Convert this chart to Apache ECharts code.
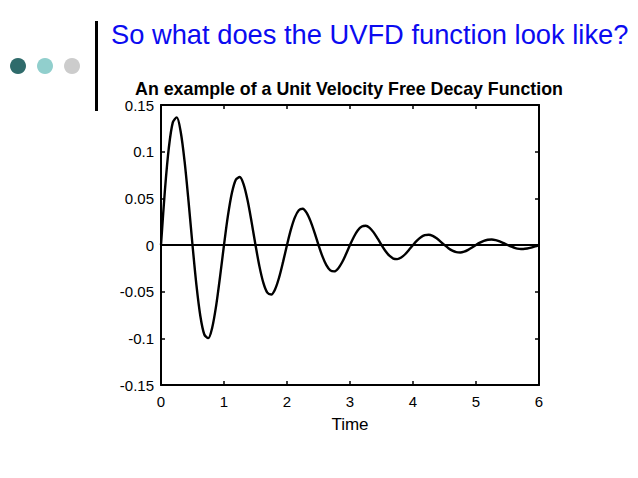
<!DOCTYPE html>
<html><head><meta charset="utf-8">
<script src="https://cdn.jsdelivr.net/npm/echarts@6/dist/echarts.min.js"></script>
<style>html,body{margin:0;padding:0;background:#fff}#c{width:638px;height:478px}</style>
</head><body><div id="c"></div>
<script>
const slideTitle = "So what does the UVFD function look like?";
const chartTitle = "An example of a Unit Velocity Free Decay Function";
const xName = "Time";
const timeValues = [0,0.0625,0.125,0.1875,0.25,0.3125,0.375,0.4375,0.5,0.5625,0.625,0.6875,0.75,0.8125,0.875,0.9375,
  1,1.0625,1.125,1.1875,1.25,1.3125,1.375,1.4375,1.5,1.5625,1.625,1.6875,1.75,1.8125,1.875,1.9375,
  2,2.0625,2.125,2.1875,2.25,2.3125,2.375,2.4375,2.5,2.5625,2.625,2.6875,2.75,2.8125,2.875,2.9375,
  3,3.0625,3.125,3.1875,3.25,3.3125,3.375,3.4375,3.5,3.5625,3.625,3.6875,3.75,3.8125,3.875,3.9375,
  4,4.0625,4.125,4.1875,4.25,4.3125,4.375,4.4375,4.5,4.5625,4.625,4.6875,4.75,4.8125,4.875,4.9375,
  5,5.0625,5.125,5.1875,5.25,5.3125,5.375,5.4375,5.5,5.5625,5.625,5.6875,5.75,5.8125,5.875,5.9375,6];
const responseValues = [0,0.0589,0.1045,0.1314,0.1367,0.1214,0.0893,0.0465,0,-0.0430,-0.0763,-0.0959,-0.0998,-0.0886,-0.0652,-0.0339,
  0,0.0314,0.0557,0.0700,0.0728,0.0647,0.0476,0.0248,0,-0.0229,-0.0406,-0.0511,-0.0531,-0.0472,-0.0347,-0.0181,
  0,0.0167,0.0296,0.0373,0.0388,0.0344,0.0253,0.0132,0,-0.0122,-0.0216,-0.0272,-0.0283,-0.0251,-0.0185,-0.0096,
  0,0.0089,0.0158,0.0198,0.0206,0.0183,0.0135,0.0070,0,-0.0065,-0.0115,-0.0145,-0.0151,-0.0134,-0.0099,-0.0051,
  0,0.0047,0.0084,0.0106,0.0110,0.0098,0.0072,0.0037,0,-0.0035,-0.0061,-0.0077,-0.0080,-0.0071,-0.0052,-0.0027,
  0,0.0025,0.0045,0.0056,0.0059,0.0052,0.0038,0.0020,0,-0.0018,-0.0033,-0.0041,-0.0043,-0.0038,-0.0028,-0.0015,0];
const xTicks = [0,1,2,3,4,5,6];
const yTicks = [-0.15,-0.1,-0.05,0,0.05,0.1,0.15];

const chart = echarts.init(document.getElementById('c'), null, {renderer:'svg'});
const font = "Arial, 'Liberation Sans', sans-serif";
const fmtY = v => String(Math.round(v*100)/100);
const axisCommon = () => ({
  axisLine:{show:true,onZero:false,lineStyle:{color:'#000',width:2}},
  axisTick:{show:true,inside:true,length:4,lineStyle:{color:'#000',width:1.5}},
  splitLine:{show:false}
});
chart.setOption({
  animation:false,
  backgroundColor:'#fff',
  title:{text:chartTitle,left:349,top:80,padding:0,textAlign:'center',
    textStyle:{fontFamily:font,fontSize:17.8,lineHeight:18,fontWeight:'bold',color:'#000'}},
  grid:{left:161,right:99,top:105,bottom:93,show:false},
  xAxis:[
    Object.assign({type:'value',min:xTicks[0],max:xTicks[xTicks.length-1],interval:1,position:'bottom',
      name:xName,nameLocation:'middle',nameGap:31,
      nameTextStyle:{fontFamily:font,fontSize:17,color:'#000'},
      axisLabel:{fontFamily:font,fontSize:15,color:'#000',margin:9}},axisCommon()),
    Object.assign({type:'value',min:xTicks[0],max:xTicks[xTicks.length-1],interval:1,position:'top',
      axisLabel:{show:false}},axisCommon())
  ],
  yAxis:[
    Object.assign({type:'value',min:yTicks[0],max:yTicks[yTicks.length-1],interval:0.05,position:'left',
      axisLabel:{fontFamily:font,fontSize:15,lineHeight:13,color:'#000',margin:7,formatter:fmtY}},axisCommon()),
    Object.assign({type:'value',min:yTicks[0],max:yTicks[yTicks.length-1],interval:0.05,position:'right',
      axisLabel:{show:false}},axisCommon())
  ],
  series:[{
    type:'line',smooth:0.3,symbol:'none',
    data:timeValues.map((t,i)=>[t,responseValues[i]]),
    lineStyle:{color:'#000',width:2.4},
    markLine:{silent:true,symbol:['none','none'],label:{show:false},
      lineStyle:{color:'#000',width:2,type:'solid'},data:[{yAxis:0}]}
  }],
  graphic:[
    {type:'circle',shape:{cx:18,cy:66,r:8},style:{fill:'#2f6b6b'}},
    {type:'circle',shape:{cx:45,cy:66,r:8},style:{fill:'#91cfcd'}},
    {type:'circle',shape:{cx:72,cy:66,r:8},style:{fill:'#cccccc'}},
    {type:'rect',shape:{x:95,y:21,width:3,height:90},style:{fill:'#000'}},
    {type:'text',left:111,top:21,style:{text:slideTitle,fontFamily:font,fontSize:27.3,fill:'#0b0bf0'}}
  ]
});
</script></body></html>
